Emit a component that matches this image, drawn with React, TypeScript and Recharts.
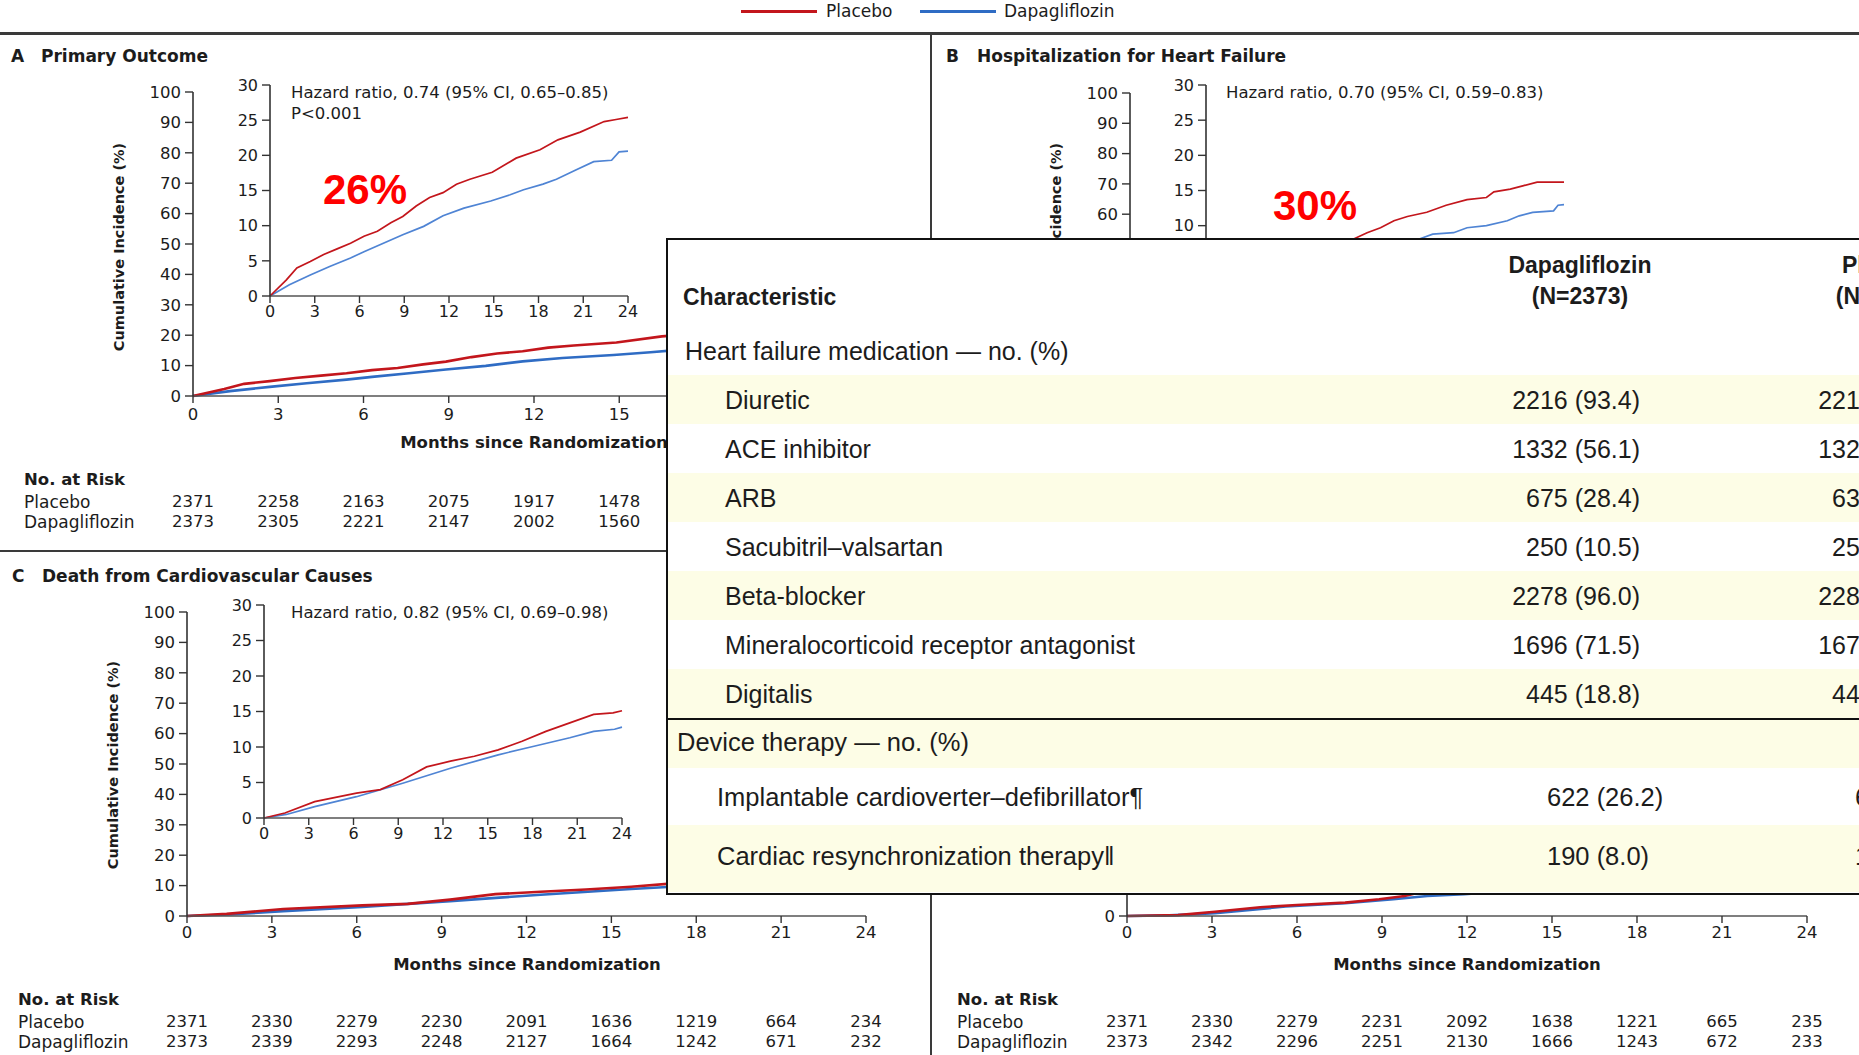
import React from 'react';
import { LineChart, Line, XAxis, YAxis } from 'recharts';

// shared axis ticks
const MONTHS = [0, 3, 6, 9, 12, 15, 18, 21, 24];
const MAIN_TICKS = [0, 10, 20, 30, 40, 50, 60, 70, 80, 90, 100];
const INSET_TICKS = [0, 5, 10, 15, 20, 25, 30];

// A: primary outcome (cumulative incidence, %)
const primaryPlaceboT = [0, 1.1, 1.8, 2.7, 3.6, 4.5, 5.4, 6.3, 7.2, 8.1, 8.9, 9.8, 10.7, 11.6, 12.5, 13.4, 14.9, 16.5, 18.1, 19.3, 20.8, 22.4, 23.2, 24];
const primaryPlaceboV = [0, 2.3, 4.0, 4.9, 5.9, 6.7, 7.5, 8.5, 9.2, 10.4, 11.3, 12.8, 14.0, 14.7, 15.9, 16.6, 17.6, 19.6, 20.8, 22.2, 23.3, 24.8, 25.1, 25.4];
const primaryDapaT = [0, 1.3, 2.7, 4.0, 5.4, 6.3, 7.6, 8.9, 10.3, 11.6, 13.0, 14.8, 16.1, 17.0, 18.3, 19.2, 20.5, 21.7, 22.9, 23.4, 24];
const primaryDapaV = [0, 1.6, 3.0, 4.2, 5.4, 6.3, 7.5, 8.7, 9.9, 11.4, 12.5, 13.5, 14.4, 15.1, 15.9, 16.6, 17.9, 19.1, 19.3, 20.5, 20.6];

// B: hospitalization for heart failure
const hfPlaceboT = [0, 3, 6, 9, 9.9, 10.8, 11.7, 12.6, 13.5, 14.8, 16.1, 17.5, 18.8, 19.3, 20.4, 21.3, 22.2, 24];
const hfPlaceboV = [0, 2.6, 4.9, 7.3, 8.1, 9.0, 9.7, 10.7, 11.3, 11.9, 12.9, 13.7, 14.0, 14.8, 15.2, 15.7, 16.2, 16.2];
const hfDapaT = [0, 3, 6, 9, 12, 14.3, 15.2, 16.6, 17.5, 18.8, 20.2, 21.0, 21.9, 23.3, 23.6, 24];
const hfDapaV = [0, 1.8, 3.6, 5.3, 7.0, 8.1, 8.8, 9.0, 9.7, 10.0, 10.7, 11.4, 11.9, 12.1, 12.9, 13.0];

// C: death from cardiovascular causes
const cvPlaceboT = [0, 1.4, 3.4, 6.2, 7.8, 9.3, 10.9, 12.5, 14.1, 15.7, 17.3, 18.9, 20.5, 22.1, 23.4, 24];
const cvPlaceboV = [0, 0.7, 2.3, 3.5, 4.0, 5.4, 7.2, 8.0, 8.7, 9.6, 10.8, 12.2, 13.4, 14.6, 14.8, 15.1];
const cvDapaT = [0, 1.5, 3.4, 6.2, 9.3, 12.5, 15.7, 18.1, 20.5, 22.1, 23.5, 24];
const cvDapaV = [0, 0.5, 1.6, 3.0, 4.9, 7.0, 8.9, 10.1, 11.3, 12.2, 12.5, 12.8];

// D: death from any cause
const anyPlaceboT = [0, 1.8, 3.1, 4.7, 6.0, 7.7, 8.9, 9.8, 10.2, 12, 15, 18, 21, 24];
const anyPlaceboV = [0, 0.3, 1.4, 2.9, 3.6, 4.4, 5.5, 6.6, 7.5, 8.8, 10.8, 12.9, 14.6, 16.2];
const anyDapaT = [0, 1.5, 3.1, 5.6, 7.7, 9.4, 10.6, 11.9, 15, 18, 21, 24];
const anyDapaV = [0, 0.2, 0.9, 3.1, 4.2, 5.5, 6.6, 7.2, 9.3, 11.2, 12.8, 14.0];

// numbers at risk
const riskPrimaryPlacebo = [2371, 2258, 2163, 2075, 1917, 1478];
const riskPrimaryDapa = [2373, 2305, 2221, 2147, 2002, 1560];
const riskCvPlacebo = [2371, 2330, 2279, 2230, 2091, 1636, 1219, 664, 234];
const riskCvDapa = [2373, 2339, 2293, 2248, 2127, 1664, 1242, 671, 232];
const riskAnyPlacebo = [2371, 2330, 2279, 2231, 2092, 1638, 1221, 665, 235];
const riskAnyDapa = [2373, 2342, 2296, 2251, 2130, 1666, 1243, 672, 233];

// baseline table
const medNames = ['Diuretic', 'ACE inhibitor', 'ARB', 'Sacubitril–valsartan', 'Beta-blocker', 'Mineralocorticoid receptor antagonist', 'Digitalis'];
const medDapa = ['2216 (93.4)', '1332 (56.1)', '675 (28.4)', '250 (10.5)', '2278 (96.0)', '1696 (71.5)', '445 (18.8)'];
const medPlacebo = ['2217 (93.5)', '1329 (56.1)', '632 (26.7)', '258 (10.9)', '2280 (96.2)', '1674 (70.6)', '442 (18.6)'];
const deviceNames = ['Implantable cardioverter–defibrillator¶', 'Cardiac resynchronization therapy‖'];
const deviceDapa = ['622 (26.2)', '190 (8.0)'];
const devicePlacebo = ['620 (26.1)', '164 (6.9)'];

const RED = '#c3161c';
const BLUE = '#2f6cc4';
const BLUE_LIGHT = '#4f84d4';
const INK = '#1c1c1c';
const CREAM = '#fdfde6';
const CHART_FONT = '"DejaVu Sans", sans-serif';
const TABLE_FONT = '"Liberation Sans", Arial, sans-serif';

type Row = { t: number; placebo?: number; dapa?: number };

function mergeCurves(pt: number[], pv: number[], dt: number[], dv: number[]): Row[] {
  const rows = new Map<number, Row>();
  pt.forEach((t, i) => rows.set(t, { ...(rows.get(t) || { t }), placebo: pv[i] }));
  dt.forEach((t, i) => rows.set(t, { ...(rows.get(t) || { t }), dapa: dv[i] }));
  return Array.from(rows.values()).sort((a, b) => a.t - b.t);
}

const primaryData = mergeCurves(primaryPlaceboT, primaryPlaceboV, primaryDapaT, primaryDapaV);
const hfData = mergeCurves(hfPlaceboT, hfPlaceboV, hfDapaT, hfDapaV);
const cvData = mergeCurves(cvPlaceboT, cvPlaceboV, cvDapaT, cvDapaV);
const anyData = mergeCurves(anyPlaceboT, anyPlaceboV, anyDapaT, anyDapaV);

const YW = 60;
const XH = 40;
const MT = 12;
const MR = 16;

type PlotProps = {
  x0: number; x1: number; yTop: number; yBottom: number;
  yMax: number; yTicks: number[]; xTicks?: number[]; data: Row[];
  lineWidth: number; fontSize: number; xTickMargin: number; inset?: boolean; noXLabels?: boolean;
};

// one Kaplan–Meier style panel, placed so that its axes land on x0/x1/yTop/yBottom
function KMPlot({ x0, x1, yTop, yBottom, yMax, yTicks, xTicks = MONTHS, data, lineWidth, fontSize, xTickMargin, inset, noXLabels }: PlotProps) {
  const width = x1 - x0 + YW + MR;
  const height = yBottom - yTop + MT + XH;
  const tick = { fill: INK, fontSize, fontFamily: CHART_FONT };
  return (
    <div style={{ position: 'absolute', left: x0 - YW, top: yTop - MT }}>
      <LineChart width={width} height={height} data={data} margin={{ top: MT, right: MR, left: 0, bottom: 0 }}>
        <XAxis type="number" dataKey="t" domain={[0, 24]} ticks={xTicks} interval={0} height={XH}
          tickSize={7} tickMargin={xTickMargin} tick={noXLabels ? false : tick}
          axisLine={{ stroke: '#555', strokeWidth: 1.6 }} tickLine={{ stroke: '#333', strokeWidth: 1.4 }} />
        <YAxis type="number" domain={[0, yMax]} ticks={yTicks} interval={0} width={YW}
          tickSize={8} tickMargin={4} tick={tick}
          axisLine={{ stroke: '#333', strokeWidth: 1.6 }} tickLine={{ stroke: '#333', strokeWidth: 1.4 }} />
        <Line type="linear" dataKey="dapa" stroke={inset ? BLUE_LIGHT : BLUE} strokeWidth={lineWidth}
          dot={false} connectNulls isAnimationActive={false} />
        <Line type="linear" dataKey="placebo" stroke={RED} strokeWidth={lineWidth}
          dot={false} connectNulls isAnimationActive={false} />
      </LineChart>
    </div>
  );
}

type TxtProps = {
  x: number; y: number; size: number; bold?: boolean; color?: string;
  font?: string; align?: 'left' | 'center' | 'right'; children: React.ReactNode;
};

function Txt({ x, y, size, bold, color, font, align = 'left', children }: TxtProps) {
  const tx = align === 'left' ? '0' : align === 'center' ? '-50%' : '-100%';
  return (
    <div style={{
      position: 'absolute', left: x, top: y, transform: `translate(${tx}, -50%)`,
      fontSize: size, fontWeight: bold ? 700 : 400, color: color || INK,
      fontFamily: font || CHART_FONT, lineHeight: 1, whiteSpace: 'nowrap',
    }}>{children}</div>
  );
}

function YLabel({ x, y }: { x: number; y: number }) {
  return (
    <div style={{
      position: 'absolute', left: x, top: y, transform: 'translate(-50%, -50%) rotate(-90deg)',
      fontSize: 14.5, fontWeight: 700, color: INK, fontFamily: CHART_FONT, whiteSpace: 'nowrap', lineHeight: 1,
    }}>Cumulative Incidence (%)</div>
  );
}

function RiskTable({ x, y, x0, x1, placebo, dapa }: { x: number; y: number; x0: number; x1: number; placebo: number[]; dapa: number[] }) {
  const step = (x1 - x0) / 8;
  return (
    <>
      <Txt x={x} y={y} size={16.5} bold>No. at Risk</Txt>
      <Txt x={x} y={y + 22} size={17}>Placebo</Txt>
      <Txt x={x} y={y + 42} size={17}>Dapagliflozin</Txt>
      {placebo.map((n, i) => <Txt key={'p' + i} x={x0 + i * step} y={y + 22} size={16.5} align="center">{n}</Txt>)}
      {dapa.map((n, i) => <Txt key={'d' + i} x={x0 + i * step} y={y + 42} size={16.5} align="center">{n}</Txt>)}
    </>
  );
}

function Rule({ left, top, width, height, color = '#3a3a3a' }: { left: number; top: number; width: number; height: number; color?: string }) {
  return <div style={{ position: 'absolute', left, top, width, height, background: color }} />;
}

function BaselineTable() {
  const L = 666;
  const T = 238;
  const rowTop = (i: number) => 375 + i * 49;
  return (
    <div style={{ position: 'absolute', left: L, top: T, width: 1300, height: 657, background: '#fff' }}>
      <div style={{ position: 'absolute', inset: 0, borderTop: '2px solid #111', borderLeft: '2px solid #111', borderBottom: '2px solid #111' }} />
      {medNames.map((_, i) => (i % 2 === 0
        ? <Rule key={'bg' + i} left={2} top={rowTop(i) - T} width={1298} height={49} color={CREAM} />
        : null))}
      <Rule left={2} top={720 - T} width={1298} height={48} color={CREAM} />
      <Rule left={2} top={825 - T} width={1298} height={67} color={CREAM} />
      <Rule left={2} top={718 - T} width={1298} height={2} color="#111" />
      <div style={{ position: 'absolute', left: -L, top: -T }}>
        <Txt x={683} y={297} size={23} bold font={TABLE_FONT}>Characteristic</Txt>
        <Txt x={1580} y={265} size={23} bold font={TABLE_FONT} align="center">Dapagliflozin</Txt>
        <Txt x={1580} y={296} size={23} bold font={TABLE_FONT} align="center">(N=2373)</Txt>
        <Txt x={1886} y={265} size={23} bold font={TABLE_FONT} align="center">Placebo</Txt>
        <Txt x={1884} y={296} size={23} bold font={TABLE_FONT} align="center">(N=2371)</Txt>
        <Txt x={685} y={351} size={25} font={TABLE_FONT}>Heart failure medication — no. (%)</Txt>
        {medNames.map((name, i) => (
          <React.Fragment key={name}>
            <Txt x={725} y={rowTop(i) + 24.5} size={25} font={TABLE_FONT}>{name}</Txt>
            <Txt x={1640} y={rowTop(i) + 24.5} size={25} font={TABLE_FONT} align="right">{medDapa[i]}</Txt>
            <Txt x={1946} y={rowTop(i) + 24.5} size={25} font={TABLE_FONT} align="right">{medPlacebo[i]}</Txt>
          </React.Fragment>
        ))}
        <Txt x={677} y={743} size={25.5} font={TABLE_FONT}>Device therapy — no. (%)</Txt>
        {deviceNames.map((name, i) => (
          <React.Fragment key={name}>
            <Txt x={717} y={[798, 857][i]} size={25.5} font={TABLE_FONT}>{name}</Txt>
            <Txt x={1547} y={[798, 857][i]} size={25.5} font={TABLE_FONT}>{deviceDapa[i]}</Txt>
            <Txt x={1855} y={[798, 857][i]} size={25.5} font={TABLE_FONT}>{devicePlacebo[i]}</Txt>
          </React.Fragment>
        ))}
      </div>
    </div>
  );
}

export default function App() {
  return (
    <div style={{ position: 'absolute', left: 0, top: 0, width: 1859, height: 1055, overflow: 'hidden', background: '#fff', fontFamily: CHART_FONT }}>
      {/* legend */}
      <Rule left={741} top={10} width={76} height={3} color={RED} />
      <Txt x={826} y={11} size={17}>Placebo</Txt>
      <Rule left={920} top={10} width={76} height={3} color={BLUE} />
      <Txt x={1004} y={11} size={17}>Dapagliflozin</Txt>

      {/* frame */}
      <Rule left={0} top={32} width={1859} height={3} />
      <Rule left={930} top={34} width={2} height={1021} />
      <Rule left={0} top={550} width={931} height={2} />

      {/* A */}
      <Txt x={11} y={56} size={17} bold>A</Txt>
      <Txt x={41} y={56} size={17} bold>Primary Outcome</Txt>
      <KMPlot x0={193} x1={875} yTop={92} yBottom={396} yMax={100} yTicks={MAIN_TICKS} xTicks={[0, 3, 6, 9, 12, 15]}
        data={primaryData} lineWidth={2.6} fontSize={16.5} xTickMargin={5} />
      <YLabel x={119} y={247} />
      <Txt x={534} y={443} size={16.5} bold align="center">Months since Randomization</Txt>
      <RiskTable x={24} y={480} x0={193} x1={875} placebo={riskPrimaryPlacebo} dapa={riskPrimaryDapa} />
      <KMPlot x0={270} x1={628} yTop={85} yBottom={296} yMax={30} yTicks={INSET_TICKS} data={primaryData}
        lineWidth={1.7} fontSize={16} xTickMargin={3} inset />
      <Txt x={291} y={93} size={16.5}>Hazard ratio, 0.74 (95% CI, 0.65–0.85)</Txt>
      <Txt x={291} y={114} size={16.5}>P&lt;0.001</Txt>
      <Txt x={365} y={190} size={42} bold color="#ff0000" font={TABLE_FONT} align="center">26%</Txt>

      {/* B (lower part sits under the table) */}
      <Txt x={946} y={56} size={17} bold>B</Txt>
      <Txt x={977} y={56} size={17} bold>Hospitalization for Heart Failure</Txt>
      <KMPlot x0={1130} x1={1812} yTop={93} yBottom={396} yMax={100} yTicks={[50, 60, 70, 80, 90, 100]}
        data={hfData} lineWidth={2.6} fontSize={16.5} xTickMargin={5} noXLabels />
      <YLabel x={1056} y={247} />
      <KMPlot x0={1206} x1={1564} yTop={85} yBottom={296} yMax={30} yTicks={INSET_TICKS} data={hfData}
        lineWidth={1.7} fontSize={16} xTickMargin={3} inset noXLabels />
      <Txt x={1226} y={93} size={16.5}>Hazard ratio, 0.70 (95% CI, 0.59–0.83)</Txt>
      <Txt x={1315} y={206} size={42} bold color="#ff0000" font={TABLE_FONT} align="center">30%</Txt>

      {/* C */}
      <Txt x={12} y={576} size={17} bold>C</Txt>
      <Txt x={42} y={576} size={17} bold>Death from Cardiovascular Causes</Txt>
      <KMPlot x0={187} x1={866} yTop={612} yBottom={916} yMax={100} yTicks={MAIN_TICKS} data={cvData}
        lineWidth={2.6} fontSize={16.5} xTickMargin={3} />
      <YLabel x={113} y={765} />
      <KMPlot x0={264} x1={622} yTop={605} yBottom={818} yMax={30} yTicks={INSET_TICKS} data={cvData}
        lineWidth={1.7} fontSize={16} xTickMargin={3} inset />
      <Txt x={291} y={613} size={16.5}>Hazard ratio, 0.82 (95% CI, 0.69–0.98)</Txt>
      <Txt x={527} y={965} size={16.5} bold align="center">Months since Randomization</Txt>
      <RiskTable x={18} y={1000} x0={187} x1={866} placebo={riskCvPlacebo} dapa={riskCvDapa} />

      {/* D (upper part sits under the table) */}
      <KMPlot x0={1127} x1={1807} yTop={612} yBottom={916} yMax={100} yTicks={[0]} data={anyData}
        lineWidth={2.6} fontSize={16.5} xTickMargin={3} />
      <Txt x={1467} y={965} size={16.5} bold align="center">Months since Randomization</Txt>
      <RiskTable x={957} y={1000} x0={1127} x1={1807} placebo={riskAnyPlacebo} dapa={riskAnyDapa} />

      <BaselineTable />
    </div>
  );
}
